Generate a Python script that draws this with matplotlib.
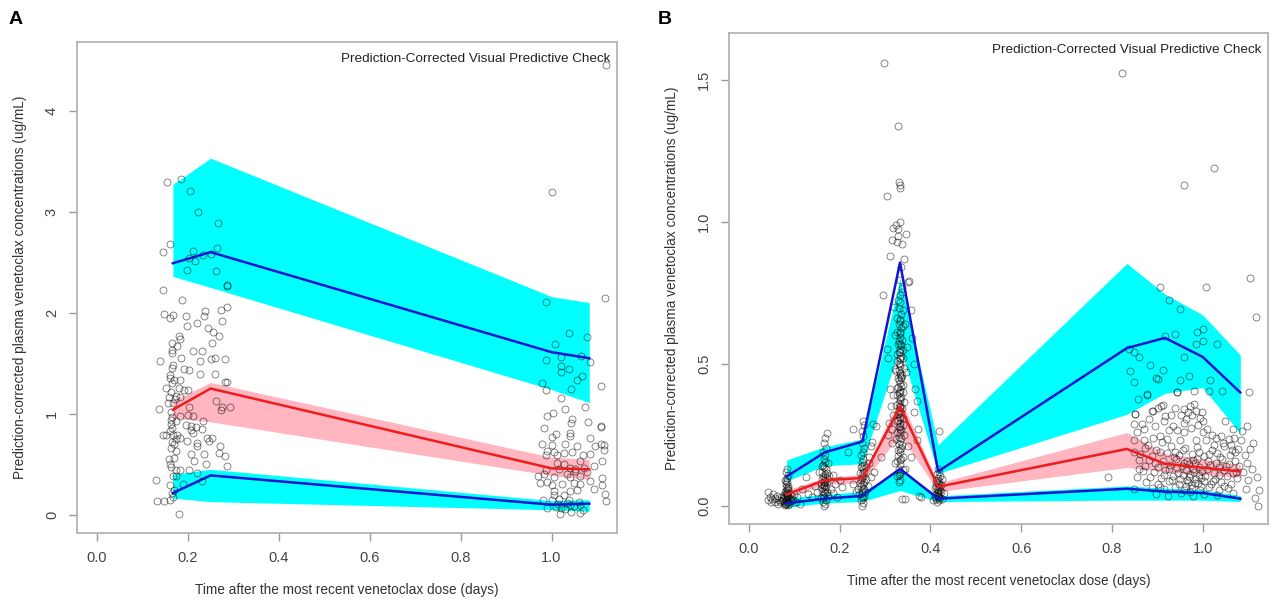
import matplotlib.pyplot as plt

plt.rcParams['font.family'] = ['Liberation Sans', 'DejaVu Sans']

TITLE = "Prediction-Corrected Visual Predictive Check"
XLAB = "Time after the most recent venetoclax dose (days)"
YLAB = "Prediction-corrected plasma venetoclax concentrations (ug/mL)"

# ---------------- panel A: bins and prediction intervals ----------------
a_bins = [0.167, 0.25, 1.0, 1.083]
a_hi_up = [3.27, 3.53, 2.16, 2.10]
a_hi_lo = [2.36, 2.25, 1.24, 1.11]
a_hi_med = [2.49, 2.60, 1.61, 1.55]
a_mid_up = [1.13, 1.31, 0.57, 0.55]
a_mid_lo = [0.96, 0.92, 0.39, 0.35]
a_mid_med = [1.04, 1.25, 0.46, 0.45]
a_low_up = [0.40, 0.45, 0.14, 0.15]
a_low_lo = [0.165, 0.13, 0.05, 0.035]
a_low_med = [0.215, 0.39, 0.10, 0.11]

a_obs_early = [
    (0.153, 3.29), (0.185, 3.32), (0.205, 3.21), (0.223, 3.00), (0.267, 2.89),
    (0.160, 2.68), (0.146, 2.60), (0.212, 2.61), (0.216, 2.51), (0.203, 2.54),
    (0.234, 2.57), (0.251, 2.58), (0.264, 2.64), (0.199, 2.42), (0.262, 2.41),
    (0.286, 2.27), (0.287, 2.26), (0.146, 2.23), (0.188, 2.13), (0.148, 1.99),
    (0.168, 1.98), (0.161, 1.95), (0.196, 1.97), (0.237, 2.02), (0.236, 1.97),
    (0.273, 2.03), (0.286, 2.06), (0.274, 1.92), (0.219, 1.90), (0.198, 1.87),
    (0.245, 1.85), (0.256, 1.81), (0.269, 1.77), (0.181, 1.77), (0.183, 1.74),
    (0.164, 1.70), (0.254, 1.70), (0.177, 1.67), (0.164, 1.63), (0.212, 1.62),
    (0.230, 1.62), (0.165, 1.60), (0.185, 1.55), (0.138, 1.52), (0.226, 1.52),
    (0.251, 1.54), (0.259, 1.55), (0.282, 1.54), (0.164, 1.45), (0.192, 1.44),
    (0.203, 1.43), (0.227, 1.39), (0.260, 1.39), (0.161, 1.38), (0.160, 1.35),
    (0.170, 1.33), (0.152, 1.26), (0.183, 1.33), (0.180, 1.26), (0.281, 1.31),
    (0.286, 1.31), (0.191, 1.24), (0.200, 1.24), (0.162, 1.22), (0.159, 1.17),
    (0.174, 1.18), (0.183, 1.17), (0.167, 1.11), (0.157, 1.11), (0.136, 1.05),
    (0.262, 1.13), (0.275, 1.07), (0.272, 1.04), (0.293, 1.07), (0.203, 1.07),
    (0.162, 1.02), (0.183, 0.98), (0.200, 0.99), (0.211, 0.98), (0.162, 0.94),
    (0.174, 0.93), (0.233, 0.93), (0.196, 0.89), (0.207, 0.88), (0.218, 0.87),
    (0.165, 0.86), (0.160, 0.83), (0.207, 0.84), (0.231, 0.85), (0.146, 0.79),
    (0.152, 0.79), (0.168, 0.79), (0.177, 0.79), (0.211, 0.81), (0.174, 0.75),
    (0.183, 0.76), (0.164, 0.72), (0.199, 0.73), (0.219, 0.71), (0.242, 0.76),
    (0.253, 0.76), (0.247, 0.73), (0.162, 0.66), (0.219, 0.68), (0.270, 0.68),
    (0.174, 0.63), (0.207, 0.60), (0.235, 0.60), (0.269, 0.61), (0.281, 0.58),
    (0.170, 0.56), (0.160, 0.50), (0.214, 0.53), (0.174, 0.44), (0.285, 0.48),
    (0.167, 0.38), (0.221, 0.41), (0.240, 0.50), (0.130, 0.34), (0.183, 0.44),
    (0.203, 0.44), (0.174, 0.38), (0.160, 0.29), (0.133, 0.14), (0.148, 0.14),
    (0.161, 0.15), (0.167, 0.18), (0.181, 0.01), (0.165, 0.22), (0.170, 0.25),
    (0.163, 0.90), (0.166, 1.30), (0.158, 0.55), (0.190, 0.30), (0.230, 0.33),
    (0.168, 1.48), (0.171, 1.15), (0.166, 0.97), (0.169, 0.70), (0.163, 0.47),
]

a_obs_late = [
    (1.000, 3.20), (1.118, 2.15), (0.987, 2.11), (1.038, 1.80), (1.077, 1.76),
    (1.007, 1.69), (0.987, 1.53), (1.020, 1.56), (1.064, 1.57), (1.084, 1.51),
    (1.021, 1.47), (1.038, 1.44), (1.021, 1.41), (1.067, 1.37), (1.055, 1.33),
    (0.979, 1.30), (1.042, 1.25), (0.987, 1.24), (1.108, 1.27), (1.021, 1.16),
    (1.073, 1.07), (1.029, 1.05), (1.004, 1.01), (0.990, 0.98), (1.045, 0.95),
    (1.042, 0.91), (1.080, 0.92), (1.108, 0.87), (0.984, 0.86), (1.010, 0.80),
    (1.040, 0.81), (1.041, 0.78), (1.000, 0.77), (1.084, 0.76), (0.979, 0.70),
    (1.002, 0.69), (1.029, 0.70), (1.055, 0.68), (1.108, 0.70), (1.095, 0.68),
    (1.115, 0.64), (0.990, 0.63), (1.005, 0.62), (1.045, 0.62), (1.084, 0.60),
    (0.987, 0.59), (1.011, 0.59), (1.027, 0.61), (1.069, 0.59), (1.062, 0.53),
    (1.011, 0.51), (1.027, 0.50), (1.093, 0.48), (1.112, 0.53), (1.040, 0.46),
    (0.987, 0.44), (1.016, 0.45), (1.051, 0.45), (0.970, 0.38), (0.984, 0.40),
    (1.005, 0.37), (1.040, 0.37), (1.062, 0.38), (1.077, 0.42), (1.112, 0.36),
    (0.975, 0.31), (0.990, 0.32), (1.002, 0.29), (1.022, 0.30), (1.049, 0.31),
    (1.062, 0.30), (1.084, 0.33), (1.093, 0.26), (1.006, 0.24), (1.040, 0.24),
    (1.057, 0.25), (1.117, 0.21), (1.005, 0.20), (1.027, 0.20), (0.982, 0.15),
    (1.016, 0.16), (1.038, 0.15), (1.021, 0.07), (1.040, 0.10), (1.062, 0.10),
    (1.000, 0.15), (1.120, 4.45), (1.108, 0.88), (1.115, 0.69), (1.112, 0.29),
    (1.119, 0.14), (1.018, 0.01), (1.063, 0.02), (1.042, 0.03), (1.010, 0.08),
    (1.030, 0.06), (1.050, 0.09), (1.070, 0.05), (0.990, 0.07), (1.015, 0.11),
    (1.035, 0.12), (1.060, 0.13), (1.052, 0.43), (1.033, 0.40), (1.072, 0.46),
]

# ---------------- panel B: bins and prediction intervals ----------------
b_bins = [0.083, 0.167, 0.25, 0.333, 0.417, 0.833, 0.917, 1.0, 1.083]
b_hi_up = [0.161, 0.208, 0.235, 0.80, 0.215, 0.853, 0.745, 0.672, 0.531]
b_hi_lo = [0.087, 0.141, 0.148, 0.56, 0.114, 0.322, 0.396, 0.416, 0.255]
b_hi_med = [0.103, 0.188, 0.226, 0.856, 0.121, 0.555, 0.591, 0.524, 0.399]
b_mid_up = [0.055, 0.100, 0.110, 0.38, 0.080, 0.258, 0.185, 0.165, 0.145]
b_mid_lo = [0.028, 0.075, 0.080, 0.25, 0.050, 0.135, 0.120, 0.110, 0.100]
b_mid_med = [0.040, 0.090, 0.098, 0.349, 0.067, 0.200, 0.148, 0.134, 0.121]
b_low_up = [0.027, 0.040, 0.050, 0.125, 0.035, 0.070, 0.062, 0.056, 0.036]
b_low_lo = [-0.005, 0.010, 0.015, 0.054, 0.015, 0.020, 0.020, 0.020, 0.015]
b_low_med = [0.009, 0.025, 0.035, 0.130, 0.025, 0.060, 0.050, 0.045, 0.025]

b_obs_05h = [
    (0.080, 0.005), (0.083, 0.010), (0.085, 0.015), (0.081, 0.020), (0.084, 0.025),
    (0.079, 0.030), (0.086, 0.035), (0.082, 0.040), (0.084, 0.045), (0.080, 0.050),
    (0.087, 0.055), (0.083, 0.060), (0.081, 0.065), (0.085, 0.070), (0.082, 0.075),
    (0.084, 0.082), (0.080, 0.090), (0.083, 0.098), (0.085, 0.107), (0.082, 0.118),
    (0.084, 0.128), (0.078, 0.012), (0.088, 0.008), (0.090, 0.018), (0.076, 0.022),
    (0.089, 0.028), (0.077, 0.038), (0.091, 0.043), (0.087, 0.012), (0.079, 0.003),
    (0.086, 0.002), (0.092, 0.025), (0.095, 0.035), (0.100, 0.040), (0.098, 0.020),
    (0.105, 0.030), (0.112, 0.005), (0.118, 0.060), (0.103, 0.012), (0.075, 0.028),
    (0.073, 0.018), (0.070, 0.030), (0.066, 0.022), (0.062, 0.035), (0.058, 0.028),
    (0.054, 0.040), (0.050, 0.025), (0.046, 0.032), (0.042, 0.048), (0.043, 0.020),
    (0.048, 0.015), (0.057, 0.012), (0.063, 0.008), (0.068, 0.015), (0.082, 0.052),
    (0.084, 0.038), (0.081, 0.008), (0.083, 0.030), (0.085, 0.062), (0.082, 0.088),
]

b_obs_4h = [
    (0.165, 0.000), (0.167, 0.008), (0.163, 0.015), (0.169, 0.022), (0.166, 0.030),
    (0.164, 0.038), (0.168, 0.045), (0.162, 0.052), (0.167, 0.058), (0.170, 0.065),
    (0.165, 0.072), (0.163, 0.078), (0.168, 0.085), (0.166, 0.092), (0.171, 0.098),
    (0.164, 0.105), (0.167, 0.112), (0.162, 0.120), (0.169, 0.128), (0.166, 0.135),
    (0.164, 0.145), (0.168, 0.155), (0.165, 0.165), (0.167, 0.178), (0.163, 0.190),
    (0.169, 0.205), (0.166, 0.220), (0.168, 0.240), (0.171, 0.255), (0.172, 0.048),
    (0.160, 0.062), (0.173, 0.082), (0.160, 0.095), (0.172, 0.115), (0.161, 0.140),
    (0.174, 0.150), (0.158, 0.075), (0.175, 0.035), (0.159, 0.028), (0.176, 0.105),
    (0.180, 0.060), (0.185, 0.045), (0.190, 0.075), (0.195, 0.030), (0.200, 0.090),
    (0.185, 0.110), (0.150, 0.050), (0.145, 0.070), (0.140, 0.030), (0.130, 0.040),
    (0.125, 0.100), (0.205, 0.065), (0.155, 0.120), (0.166, 0.068), (0.165, 0.082),
    (0.167, 0.102), (0.166, 0.050),
]

b_obs_6h = [
    (0.250, 0.000), (0.252, 0.010), (0.248, 0.020), (0.251, 0.028), (0.253, 0.036),
    (0.249, 0.044), (0.250, 0.052), (0.254, 0.060), (0.247, 0.068), (0.251, 0.075),
    (0.253, 0.082), (0.248, 0.090), (0.250, 0.098), (0.252, 0.105), (0.249, 0.112),
    (0.254, 0.120), (0.251, 0.128), (0.247, 0.136), (0.253, 0.145), (0.250, 0.155),
    (0.252, 0.165), (0.248, 0.178), (0.251, 0.190), (0.253, 0.205), (0.249, 0.220),
    (0.252, 0.245), (0.250, 0.265), (0.254, 0.285), (0.252, 0.298), (0.256, 0.050),
    (0.245, 0.080), (0.257, 0.095), (0.244, 0.115), (0.258, 0.135), (0.243, 0.040),
    (0.240, 0.060), (0.235, 0.050), (0.230, 0.075), (0.262, 0.070), (0.268, 0.100),
    (0.275, 0.120), (0.230, 0.270), (0.265, 0.150), (0.270, 0.210), (0.274, 0.289),
    (0.218, 0.188), (0.251, 0.062), (0.250, 0.140), (0.249, 0.030),
]

b_obs_8h = [
    (0.331, 0.085), (0.334, 0.112), (0.330, 0.131), (0.333, 0.148), (0.336, 0.163),
    (0.329, 0.177), (0.332, 0.191), (0.335, 0.204), (0.331, 0.218), (0.334, 0.229),
    (0.330, 0.242), (0.333, 0.255), (0.336, 0.266), (0.331, 0.279), (0.334, 0.291),
    (0.329, 0.302), (0.332, 0.314), (0.335, 0.326), (0.331, 0.338), (0.333, 0.349),
    (0.330, 0.361), (0.334, 0.372), (0.336, 0.384), (0.331, 0.396), (0.333, 0.408),
    (0.329, 0.419), (0.334, 0.431), (0.331, 0.443), (0.335, 0.455), (0.332, 0.467),
    (0.330, 0.478), (0.334, 0.491), (0.331, 0.503), (0.333, 0.516), (0.336, 0.528),
    (0.330, 0.541), (0.333, 0.553), (0.335, 0.566), (0.331, 0.579), (0.334, 0.593),
    (0.332, 0.608), (0.335, 0.624), (0.330, 0.641), (0.333, 0.658), (0.336, 0.676),
    (0.331, 0.697), (0.334, 0.718), (0.332, 0.742), (0.337, 0.768), (0.333, 0.795),
    (0.327, 0.105), (0.339, 0.125), (0.326, 0.158), (0.340, 0.172), (0.328, 0.198),
    (0.338, 0.213), (0.325, 0.236), (0.341, 0.248), (0.327, 0.261), (0.339, 0.283),
    (0.326, 0.297), (0.340, 0.309), (0.328, 0.322), (0.338, 0.343), (0.325, 0.356),
    (0.341, 0.367), (0.327, 0.389), (0.339, 0.402), (0.326, 0.414), (0.340, 0.426),
    (0.328, 0.449), (0.338, 0.462), (0.325, 0.473), (0.341, 0.486), (0.327, 0.509),
    (0.339, 0.521), (0.326, 0.535), (0.340, 0.547), (0.328, 0.571), (0.338, 0.585),
    (0.327, 0.613), (0.339, 0.632), (0.326, 0.662), (0.340, 0.688), (0.328, 0.725),
    (0.338, 0.752), (0.333, 0.120), (0.334, 0.160), (0.332, 0.200), (0.335, 0.240),
    (0.333, 0.280), (0.332, 0.310), (0.334, 0.350), (0.333, 0.380), (0.335, 0.420),
    (0.332, 0.460), (0.334, 0.500), (0.333, 0.540), (0.332, 0.570), (0.334, 0.610),
    (0.333, 0.650), (0.335, 0.450), (0.332, 0.330), (0.334, 0.270), (0.333, 0.520),
    (0.332, 0.400), (0.298, 1.558), (0.329, 1.336), (0.330, 1.140), (0.332, 1.130),
    (0.333, 1.120), (0.304, 1.092), (0.318, 0.978), (0.324, 0.990), (0.333, 1.000),
    (0.328, 0.975), (0.316, 0.935), (0.329, 0.950), (0.346, 0.955), (0.338, 0.920),
    (0.327, 0.930), (0.311, 0.880), (0.342, 0.870), (0.336, 0.840), (0.295, 0.743),
    (0.351, 0.786), (0.305, 0.551), (0.306, 0.519), (0.311, 0.410), (0.317, 0.390),
    (0.314, 0.350), (0.318, 0.320), (0.308, 0.290), (0.315, 0.270), (0.306, 0.250),
    (0.316, 0.220), (0.353, 0.790), (0.357, 0.690), (0.359, 0.590), (0.363, 0.500),
    (0.366, 0.410), (0.370, 0.370), (0.363, 0.330), (0.373, 0.270), (0.370, 0.230),
    (0.350, 0.210), (0.357, 0.170), (0.272, 0.225), (0.290, 0.170), (0.280, 0.280),
    (0.264, 0.170), (0.338, 0.025), (0.343, 0.025), (0.379, 0.030), (0.333, 0.090),
    (0.330, 0.110), (0.375, 0.034), (0.322, 0.600), (0.345, 0.640), (0.320, 0.700),
    (0.348, 0.560), (0.321, 0.480), (0.346, 0.470), (0.323, 0.150), (0.344, 0.130),
]

b_obs_10h = [
    (0.415, 0.015), (0.418, 0.020), (0.413, 0.025), (0.420, 0.030), (0.416, 0.035),
    (0.419, 0.040), (0.414, 0.045), (0.417, 0.050), (0.421, 0.055), (0.415, 0.060),
    (0.418, 0.065), (0.413, 0.070), (0.420, 0.075), (0.416, 0.080), (0.419, 0.086),
    (0.414, 0.092), (0.417, 0.098), (0.421, 0.105), (0.415, 0.112), (0.418, 0.120),
    (0.416, 0.128), (0.411, 0.038), (0.423, 0.048), (0.410, 0.062), (0.424, 0.072),
    (0.412, 0.085), (0.425, 0.095), (0.409, 0.030), (0.426, 0.025), (0.418, 0.262),
    (0.405, 0.022), (0.430, 0.045), (0.417, 0.033), (0.416, 0.057), (0.418, 0.028),
]

b_obs_late = [
    (0.823, 1.522), (0.960, 1.128), (1.025, 1.189), (1.104, 0.803), (1.117, 0.665),
    (1.007, 0.770), (0.905, 0.770), (0.925, 0.725), (0.951, 0.694), (0.988, 0.610),
    (1.001, 0.622), (0.986, 0.570), (1.000, 0.580), (0.938, 0.604), (0.916, 0.598),
    (0.960, 0.524), (1.031, 0.571), (0.838, 0.553), (0.849, 0.540), (0.860, 0.524),
    (0.885, 0.497), (0.839, 0.474), (0.848, 0.436), (0.898, 0.450), (0.902, 0.445),
    (0.912, 0.477), (0.951, 0.443), (0.969, 0.457), (1.016, 0.443), (1.014, 0.403),
    (1.042, 0.403), (1.102, 0.400), (0.943, 0.399), (0.981, 0.403), (0.878, 0.390),
    (0.857, 0.376), (0.890, 0.335), (0.901, 0.345), (0.912, 0.356), (0.850, 0.322),
    (0.867, 0.289), (1.097, 0.282), (1.110, 0.222), (1.087, 0.262), (1.120, 0.100),
    (1.124, 0.054), (1.116, 0.027), (1.123, 0.000), (0.792, 0.100),
    (0.852, 0.323), (0.849, 0.288), (0.856, 0.259), (0.848, 0.230), (0.878, 0.393),
    (0.889, 0.334), (0.908, 0.350), (0.918, 0.317), (0.944, 0.399), (0.960, 0.340),
    (0.967, 0.330), (0.953, 0.318), (0.963, 0.305), (0.958, 0.290), (0.972, 0.350),
    (0.985, 0.335), (0.998, 0.330), (1.000, 0.300), (0.944, 0.267), (1.020, 0.250),
    (1.030, 0.240), (1.040, 0.245), (0.890, 0.240), (0.905, 0.245), (0.922, 0.235),
    (0.910, 0.225), (1.068, 0.270), (1.070, 0.240), (1.072, 0.190), (0.935, 0.280),
    (0.975, 0.275), (0.990, 0.285), (1.010, 0.270), (1.050, 0.300), (0.870, 0.270),
    (0.930, 0.320), (0.982, 0.360), (0.995, 0.310), (0.860, 0.130), (0.849, 0.190),
    (0.860, 0.160), (0.848, 0.060), (0.855, 0.100),
    (0.872, 0.205), (0.898, 0.198), (0.931, 0.210), (0.962, 0.202), (0.988, 0.207),
    (1.021, 0.196), (1.048, 0.209), (1.079, 0.201), (0.863, 0.182), (0.889, 0.176),
    (0.921, 0.185), (0.948, 0.179), (0.977, 0.184), (1.003, 0.177), (1.032, 0.186),
    (1.061, 0.180), (0.881, 0.162), (0.912, 0.158), (0.941, 0.165), (0.966, 0.156),
    (0.987, 0.163), (1.012, 0.157), (1.042, 0.166), (1.071, 0.159), (0.873, 0.141),
    (0.902, 0.137), (0.929, 0.145), (0.955, 0.139), (0.971, 0.146), (0.992, 0.136),
    (1.016, 0.143), (1.037, 0.138), (1.059, 0.147), (1.081, 0.140), (0.868, 0.121),
    (0.893, 0.118), (0.918, 0.125), (0.945, 0.116), (0.963, 0.127), (0.981, 0.119),
    (0.998, 0.124), (1.024, 0.117), (1.046, 0.126), (1.067, 0.115), (0.884, 0.101),
    (0.909, 0.097), (0.934, 0.105), (0.951, 0.094), (0.969, 0.103), (0.985, 0.096),
    (1.006, 0.106), (1.028, 0.095), (1.053, 0.104), (1.076, 0.098), (0.876, 0.082),
    (0.901, 0.078), (0.926, 0.086), (0.948, 0.075), (0.967, 0.084), (0.983, 0.079),
    (1.002, 0.087), (1.019, 0.076), (1.041, 0.085), (1.063, 0.077), (0.888, 0.062),
    (0.915, 0.058), (0.938, 0.066), (0.958, 0.055), (0.976, 0.064), (0.994, 0.057),
    (1.013, 0.065), (1.035, 0.054), (1.057, 0.062), (0.897, 0.041), (0.923, 0.036),
    (0.952, 0.044), (0.979, 0.034), (1.004, 0.042), (1.031, 0.037), (1.066, 0.045),
    (0.972, 0.112), (0.978, 0.131), (0.965, 0.092), (0.991, 0.108), (0.984, 0.150),
    (0.996, 0.071), (0.958, 0.150), (0.975, 0.072), (1.009, 0.128), (0.944, 0.133),
    (1.093, 0.180), (1.098, 0.150), (1.090, 0.120), (1.100, 0.090), (1.095, 0.060),
    (1.105, 0.200), (1.108, 0.130), (1.085, 0.230), (0.925, 0.268), (0.950, 0.230),
    (0.985, 0.230), (0.870, 0.230), (0.895, 0.280), (0.915, 0.300), (1.000, 0.260),
    (1.045, 0.220), (1.058, 0.235), (0.960, 0.260), (0.940, 0.190), (1.025, 0.215),
    (0.879, 0.215), (0.907, 0.190), (0.936, 0.172), (0.956, 0.196), (0.993, 0.190),
    (1.015, 0.183), (1.039, 0.172), (1.064, 0.195), (0.895, 0.150), (0.926, 0.130),
    (0.978, 0.160), (1.030, 0.150), (1.052, 0.140), (0.915, 0.110), (0.957, 0.108),
    (0.997, 0.097), (1.036, 0.108), (1.074, 0.120), (0.933, 0.090), (0.990, 0.080),
    (1.022, 0.088), (0.905, 0.065), (0.964, 0.068), (1.047, 0.070), (0.972, 0.050),
    (0.882, 0.305), (0.938, 0.345), (0.976, 0.318), (1.008, 0.232), (1.062, 0.214),
]


def draw_panel(ax, bins, hi, mid, low, obs_groups, ylim, yticks, yticklabels):
    hi_lo, hi_up, hi_med = hi
    mid_lo, mid_up, mid_med = mid
    low_lo, low_up, low_med = low

    ax.fill_between(bins, hi_lo, hi_up, color='#00ffff', lw=0, zorder=1)
    ax.fill_between(bins, low_lo, low_up, color='#00ffff', lw=0, zorder=1)
    ax.fill_between(bins, mid_lo, mid_up, color='#ffb6c1', lw=0, zorder=1)

    for grp in obs_groups:
        xs, ys = zip(*grp)
        ax.plot(xs, ys, 'o', ms=5, mfc='none', mec='black', mew=0.6,
                alpha=0.55, zorder=2)

    ax.plot(bins, hi_med, color='#1414d2', lw=1.8, zorder=3)
    ax.plot(bins, low_med, color='#1414d2', lw=1.8, zorder=3)
    ax.plot(bins, mid_med, color='#ee1c1c', lw=1.8, zorder=3)

    ax.set_xlim(-0.044, 1.144)
    ax.set_ylim(*ylim)
    ax.set_xticks([0.0, 0.2, 0.4, 0.6, 0.8, 1.0])
    ax.set_xticklabels(['0.0', '0.2', '0.4', '0.6', '0.8', '1.0'])
    ax.set_yticks(yticks)
    ax.set_yticklabels(yticklabels, rotation=90, va='center')
    ax.tick_params(direction='out', length=6, width=1, color='#999999',
                   labelcolor='#444444', labelsize=10.5, pad=7)
    for sp in ax.spines.values():
        sp.set_color('#b4b4b4')
        sp.set_linewidth(1.3)

    ax.text(0.988, 0.965, TITLE, transform=ax.transAxes, ha='right',
            va='center', fontsize=9.7, color='#222222')
    ax.text(0.5, -0.116, XLAB, transform=ax.transAxes, ha='center',
            va='center', fontsize=9.8, color='#333333')
    ax.text(-0.106, 0.5, YLAB, transform=ax.transAxes, ha='center',
            va='center', rotation=90, fontsize=9.8, color='#333333')


fig = plt.figure(figsize=(12.7, 6), dpi=100)
ax_a = fig.add_axes([0.0606, 0.1117, 0.4252, 0.8183])
ax_b = fig.add_axes([0.574, 0.1267, 0.4244, 0.8183])

draw_panel(ax_a, a_bins,
           (a_hi_lo, a_hi_up, a_hi_med),
           (a_mid_lo, a_mid_up, a_mid_med),
           (a_low_lo, a_low_up, a_low_med),
           [a_obs_early, a_obs_late],
           (-0.18, 4.68), [0, 1, 2, 3, 4], ['0', '1', '2', '3', '4'])

draw_panel(ax_b, b_bins,
           (b_hi_lo, b_hi_up, b_hi_med),
           (b_mid_lo, b_mid_up, b_mid_med),
           (b_low_lo, b_low_up, b_low_med),
           [b_obs_05h, b_obs_4h, b_obs_6h, b_obs_8h, b_obs_10h, b_obs_late],
           (-0.064, 1.664), [0.0, 0.5, 1.0, 1.5], ['0.0', '0.5', '1.0', '1.5'])

fig.text(0.007, 0.968, 'A', fontsize=14, fontweight='bold', va='center')
fig.text(0.518, 0.968, 'B', fontsize=14, fontweight='bold', va='center')

fig.savefig('out.png', dpi=100)
